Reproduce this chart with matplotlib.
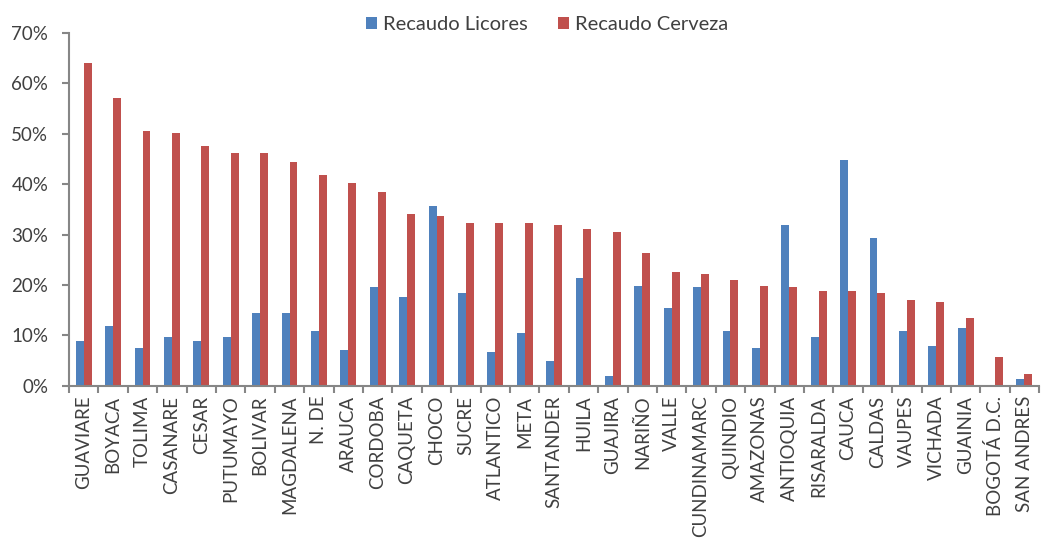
import numpy as np
import matplotlib
matplotlib.use("Agg")
import matplotlib.pyplot as plt
from matplotlib.ticker import FixedLocator, PercentFormatter

departamentos = ["GUAVIARE", "BOYACA", "TOLIMA", "CASANARE", "CESAR", "PUTUMAYO",
                 "BOLIVAR", "MAGDALENA", "N. DE", "ARAUCA", "CORDOBA", "CAQUETA",
                 "CHOCO", "SUCRE", "ATLANTICO", "META", "SANTANDER", "HUILA",
                 "GUAJIRA", "NARIÑO", "VALLE", "CUNDINAMARC", "QUINDIO", "AMAZONAS",
                 "ANTIOQUIA", "RISARALDA", "CAUCA", "CALDAS", "VAUPES", "VICHADA",
                 "GUAINIA", "BOGOTÁ D.C.", "SAN ANDRES"]

licores = [9.0, 11.9, 7.5, 9.7, 9.0, 9.7, 14.4, 14.4, 10.8, 7.1, 19.6, 17.7,
           35.6, 18.5, 6.8, 10.4, 5.0, 21.4, 2.0, 19.9, 15.5, 19.6, 10.8, 7.5,
           31.9, 9.7, 44.7, 29.4, 10.8, 7.9, 11.5, 0.0, 1.3]

cerveza = [64.0, 57.1, 50.5, 50.1, 47.6, 46.2, 46.2, 44.3, 41.8, 40.3, 38.5, 34.1,
           33.7, 32.3, 32.3, 32.3, 31.9, 31.2, 30.5, 26.4, 22.5, 22.1, 21.0, 19.9,
           19.6, 18.8, 18.8, 18.5, 17.0, 16.6, 13.4, 5.7, 2.4]

azul = "#4F81BD"
rojo = "#C0504D"
gris = "#868686"
texto = "#404040"

fig = plt.figure(figsize=(10.51, 5.39), dpi=100)
ax = fig.add_axes([0.0657, 0.284, 0.923, 0.655])

x = np.arange(len(departamentos))
w = 0.27
ax.bar(x - w / 2, licores, w, color=azul, label="Recaudo Licores")
ax.bar(x + w / 2, cerveza, w, color=rojo, label="Recaudo Cerveza")

ax.set_xlim(-0.5, len(departamentos) - 0.5)
ax.set_ylim(0, 70)
ax.set_yticks(np.arange(0, 71, 10))
ax.yaxis.set_major_formatter(PercentFormatter(decimals=0))

# ticks between categories, labels at centers
ax.xaxis.set_major_locator(FixedLocator(np.arange(-0.5, len(departamentos), 1)))
ax.xaxis.set_major_formatter(plt.NullFormatter())
ax.xaxis.set_minor_locator(FixedLocator(x))
ax.set_xticklabels(departamentos, minor=True, rotation=90, fontsize=13.5,
                   family="Lato", color=texto)
ax.tick_params(axis="x", which="minor", length=0, pad=7)
ax.tick_params(axis="x", which="major", length=5, width=1.5, color=gris)
ax.tick_params(axis="y", length=5, width=1.5, color=gris, labelsize=13.5,
               labelcolor=texto, pad=10)
for lab in ax.get_yticklabels():
    lab.set_family("Lato")

for s in ["top", "right"]:
    ax.spines[s].set_visible(False)
for s in ["left", "bottom"]:
    ax.spines[s].set_color(gris)
    ax.spines[s].set_linewidth(1.5)

fig.legend(loc="center", bbox_to_anchor=(0.5205, 0.955), ncol=2, frameon=False,
           prop={"family": "Lato", "size": 14.5}, labelcolor=texto,
           handlelength=0.55, handleheight=0.55, handletextpad=0.3, columnspacing=1.5)

fig.savefig("out.png", dpi=100)
